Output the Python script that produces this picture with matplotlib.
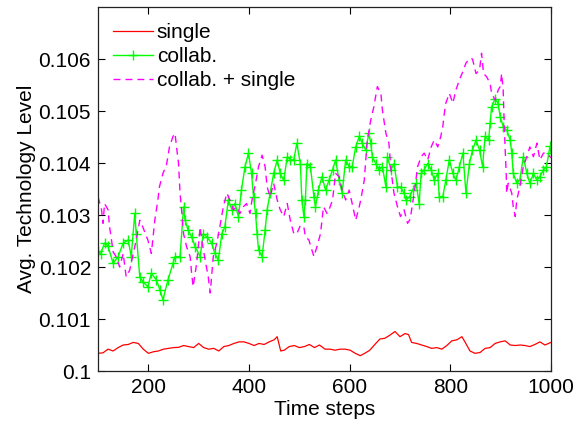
import numpy as np
import matplotlib
matplotlib.use("Agg")
import matplotlib.pyplot as plt
from matplotlib.ticker import FixedLocator, FuncFormatter

plt.rcParams['font.family'] = ['Liberation Sans', 'DejaVu Sans']

# ---------------- data (in units of 1e-3 above 0.1) -------------
single_steps = [100, 110, 120, 130, 140, 150, 160, 170, 180, 190, 200, 210, 220, 230, 240, 250,
                260, 270, 280, 290, 300, 310, 320, 330, 340, 350, 360, 370, 380, 390, 400, 410,
                420, 430, 440, 450, 456, 463, 470, 480, 490, 500, 510, 520, 530, 540, 551, 561,
                571, 581, 591, 601, 611, 621, 630, 640, 650, 660, 670, 680, 690, 700, 710, 717,
                723, 733, 743, 753, 763, 773, 783, 793, 803, 813, 823, 829, 839, 849, 859, 869,
                879, 889, 899, 909, 919, 929, 939, 948, 958, 968, 978, 988, 1000]
single_vals = [0.34, 0.35, 0.42, 0.385, 0.45, 0.50, 0.51, 0.55, 0.53, 0.42, 0.34, 0.37, 0.385,
               0.42, 0.435, 0.45, 0.455, 0.49, 0.47, 0.45, 0.53, 0.45, 0.42, 0.435, 0.385, 0.47,
               0.49, 0.53, 0.56, 0.56, 0.53, 0.49, 0.53, 0.51, 0.56, 0.60, 0.66, 0.385, 0.40,
               0.47, 0.49, 0.45, 0.47, 0.51, 0.45, 0.50, 0.42, 0.42, 0.40, 0.42, 0.42, 0.40,
               0.34, 0.295, 0.34, 0.40, 0.51, 0.615, 0.63, 0.69, 0.76, 0.66, 0.72, 0.70, 0.55,
               0.53, 0.50, 0.47, 0.435, 0.45, 0.42, 0.49, 0.58, 0.60, 0.66, 0.56, 0.385, 0.34,
               0.355, 0.435, 0.45, 0.53, 0.56, 0.58, 0.50, 0.49, 0.50, 0.49, 0.47, 0.51, 0.56,
               0.50, 0.55]

collab_steps = [100, 105, 113, 120, 130, 140, 150, 160, 166, 173, 176, 183, 189, 199, 206, 216,
                223, 229, 239, 249, 253, 263, 270, 273, 279, 286, 293, 303, 309, 316, 326, 332,
                339, 346, 352, 359, 366, 372, 379, 385, 392, 399, 405, 409, 413, 416, 419, 426,
                432, 436, 442, 449, 456, 462, 469, 476, 482, 489, 495, 502, 505, 509, 512, 515,
                522, 529, 532, 538, 545, 552, 559, 566, 572, 579, 585, 592, 599, 605, 612, 619,
                625, 632, 638, 642, 645, 652, 658, 665, 672, 675, 682, 688, 695, 701, 708, 712,
                719, 725, 732, 738, 742, 748, 755, 762, 768, 775, 778, 785, 791, 798, 805, 811,
                818, 825, 831, 838, 844, 851, 858, 864, 869, 876, 879, 882, 889, 895, 899, 905,
                912, 919, 922, 925, 932, 938, 945, 952, 958, 965, 972, 978, 985, 991, 998, 1000]
collab_vals = [2.30, 2.25, 2.46, 2.40, 2.07, 2.20, 2.46, 2.52, 2.20, 3.03, 2.64, 1.81, 1.72,
               1.62, 1.88, 1.75, 1.56, 1.37, 1.75, 2.07, 2.20, 2.20, 3.16, 2.90, 2.71, 2.58,
               2.39, 2.20, 2.64, 2.58, 2.46, 2.26, 2.13, 2.64, 2.77, 3.29, 3.10, 3.22, 2.97,
               3.48, 3.93, 4.19, 3.80, 3.35, 3.03, 2.64, 2.33, 2.20, 2.71, 3.10, 3.42, 3.80,
               4.06, 3.80, 3.67, 4.12, 4.06, 4.06, 4.38, 3.99, 3.29, 2.97, 3.29, 3.99, 3.93,
               3.35, 3.16, 3.48, 3.74, 3.48, 3.67, 3.87, 4.06, 3.67, 3.42, 4.06, 3.93, 3.93,
               4.31, 4.51, 4.38, 4.25, 4.57, 4.38, 4.12, 3.99, 3.87, 3.93, 3.54, 4.12, 3.87,
               3.99, 3.54, 3.54, 3.42, 3.29, 3.35, 3.48, 3.61, 3.22, 3.80, 3.87, 3.99, 3.87,
               3.67, 3.80, 3.35, 3.35, 3.67, 4.06, 3.80, 3.67, 3.93, 4.19, 3.42, 3.99, 4.25,
               4.44, 4.25, 3.93, 4.51, 4.44, 4.76, 5.08, 5.24, 5.14, 4.89, 4.70, 4.63, 4.44,
               4.19, 3.80, 3.61, 3.67, 4.12, 3.80, 3.61, 3.80, 3.67, 3.74, 3.87, 3.93, 4.32, 4.20]

both_steps = [100, 107, 110, 113, 120, 123, 126, 130, 136, 143, 150, 156, 163, 170, 176, 183,
              189, 199, 206, 213, 219, 222, 229, 236, 242, 249, 253, 256, 260, 263, 266, 270,
              276, 283, 286, 289, 296, 303, 306, 313, 319, 323, 329, 336, 342, 349, 356, 362,
              369, 375, 382, 389, 395, 402, 406, 413, 419, 426, 432, 436, 442, 449, 456, 462,
              469, 476, 482, 489, 495, 502, 509, 512, 519, 522, 529, 535, 542, 548, 555, 559,
              566, 572, 579, 585, 592, 599, 605, 612, 619, 622, 629, 632, 635, 642, 648, 655,
              662, 665, 672, 678, 682, 688, 695, 701, 708, 715, 719, 722, 729, 735, 742, 748,
              755, 762, 768, 775, 781, 785, 788, 791, 798, 805, 811, 818, 825, 831, 838, 844,
              851, 858, 862, 866, 872, 879, 882, 889, 895, 899, 902, 905, 907, 909, 911, 912,
              915, 922, 925, 929, 932, 938, 945, 952, 958, 965, 972, 978, 985, 991, 998, 1000]
both_vals = [3.35, 3.10, 2.84, 3.22, 3.10, 2.77, 2.58, 2.29, 2.20, 2.00, 2.26, 1.81, 1.94, 2.26,
             2.52, 2.90, 2.77, 2.52, 2.26, 2.91, 3.29, 3.54, 3.80, 3.96, 4.31, 4.51, 4.57, 4.31,
             3.99, 3.42, 3.10, 2.64, 2.39, 2.20, 1.88, 1.62, 2.07, 2.77, 2.52, 2.13, 1.81, 1.50,
             2.20, 2.46, 2.77, 3.16, 3.42, 3.29, 3.10, 3.16, 3.03, 3.16, 3.22, 3.03, 3.29, 3.61,
             3.93, 4.15, 3.93, 3.54, 3.35, 3.61, 3.29, 3.10, 2.97, 3.22, 2.90, 2.64, 2.64, 2.80,
             2.77, 2.58, 2.52, 2.42, 2.20, 2.39, 2.64, 3.16, 3.03, 3.10, 3.29, 3.80, 3.74, 3.48,
             3.29, 3.48, 3.22, 2.90, 3.16, 3.29, 3.67, 4.06, 4.44, 4.83, 5.08, 5.47, 5.34, 5.02,
             4.57, 4.38, 3.87, 3.42, 3.16, 2.97, 3.10, 2.84, 2.90, 3.03, 3.48, 3.93, 4.12, 4.19,
             4.06, 4.31, 4.44, 4.31, 4.51, 4.70, 4.95, 5.15, 5.34, 5.15, 5.40, 5.60, 5.76, 5.92,
             6.01, 6.00, 5.72, 5.79, 6.11, 5.72, 5.66, 5.53, 5.34, 5.21, 5.40, 5.47, 5.72, 5.40,
             4.76, 4.25, 3.80, 3.42, 3.61, 3.42, 3.16, 2.97, 3.29, 3.54, 3.93, 4.12, 4.31, 4.12,
             4.38, 4.06, 4.19, 4.19, 4.12, 4.10]

labels = ["single", "collab.", "collab. + single"]
x_ticks = [200, 400, 600, 800, 1000]
y_ticks = [0.100, 0.101, 0.102, 0.103, 0.104, 0.105, 0.106]

to_level = lambda v: 0.1 + np.asarray(v) / 1000.0

# ---------------- figure ----------------
fig = plt.figure(figsize=(5.74, 4.23), dpi=100)
ax = fig.add_axes([98 / 574, 52 / 423, 453 / 574, 364 / 423])

ax.plot(single_steps, to_level(single_vals), color='#ff0000', lw=0.9, label=labels[0])
ax.plot(collab_steps, to_level(collab_vals), color='#00ff00', lw=1.0, marker='+',
        markersize=7, markeredgewidth=1.0, label=labels[1])
ax.plot(both_steps, to_level(both_vals), color='#ff00ff', lw=1.0, dashes=(5, 3.6),
        label=labels[2])

ax.set_xlim(100, 1000)
ax.set_ylim(0.1, 0.107)
ax.xaxis.set_major_locator(FixedLocator(x_ticks))
ax.yaxis.set_major_locator(FixedLocator(y_ticks))
ax.yaxis.set_major_formatter(FuncFormatter(lambda v, p: f"{round(v, 4):g}"))
ax.tick_params(direction='in', length=5, width=0.8, top=True, right=True,
               labelsize=15, colors='black', pad=5)
for s in ax.spines.values():
    s.set_linewidth(0.9)
    s.set_color('#222222')

ax.set_xlabel("Time steps", fontsize=15, labelpad=2)
ax.set_ylabel("Avg. Technology Level", fontsize=15, labelpad=2)

ax.legend(loc='upper left', bbox_to_anchor=(15 / 453, 0.956), frameon=False, fontsize=15,
          handlelength=1.9, handletextpad=0.2, labelspacing=0.245, borderpad=0,
          borderaxespad=0)

fig.savefig("out.png", dpi=100)
